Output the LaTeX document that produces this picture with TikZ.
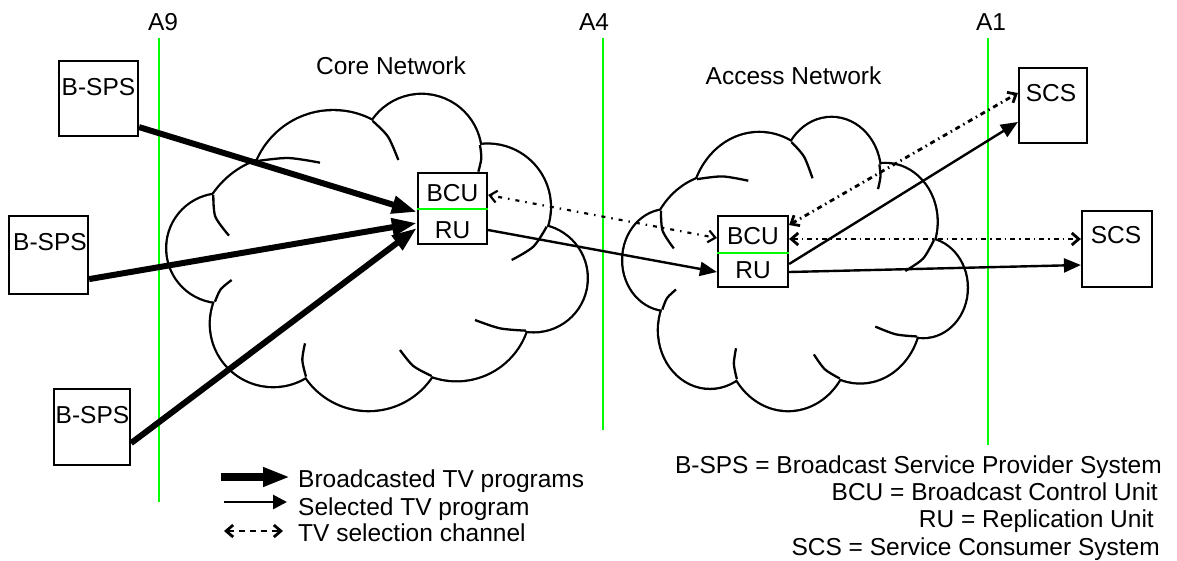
\documentclass[tikz,border=0pt]{standalone}
\usepackage{fontspec}
\setmainfont{Liberation Sans}
\usetikzlibrary{arrows.meta}
\definecolor{lgreen}{RGB}{0,255,0}
\newcommand\puffdata{550/341.6/248,814.9/222.1/177.2,1012.5/381/187,1150.8/594.4/159.3,919.5/680.5/220,655.8/763.6/226.4,369.6/731.2/186.8,213.4/504.6/161.5,409.4/492.6/264.5}
\newcommand\drawmscloud{%
  \foreach \cx/\cy/\r in \puffdata {\draw[line width=4.6pt] (\cx,\cy) circle[radius=\r];}
  \foreach \cx/\cy/\r in \puffdata {\fill[white] (\cx,\cy) circle[radius=\r];}
  \fill[white] (190,345) -- (322,243) -- (668,123) -- (990,195) -- (1190,440) -- (1128,752) -- (845,888) -- (468,890) -- (195,665) -- cycle;
  \draw[cloudline] plot[smooth] coordinates {(322,243) (415,234) (510,248)};
  \draw[cloudline] plot[smooth] coordinates {(668,123) (714,170) (745,240)};
  \draw[cloudline] plot[smooth] coordinates {(990,195) (994,235) (985,275)};
  \draw[cloudline] plot[smooth] coordinates {(1190,440) (1150,500) (1085,540)};
  \draw[cloudline] plot[smooth] coordinates {(1128,752) (1050,745) (975,720)};
  \draw[cloudline] plot[smooth] coordinates {(845,888) (790,858) (750,810)};
  \draw[cloudline] plot[smooth] coordinates {(468,890) (457,840) (465,790)};
  \draw[cloudline] plot[smooth] coordinates {(195,665) (212,628) (245,600)};
  \draw[cloudline] plot[smooth] coordinates {(190,345) (196,410) (237,467)};
}
\begin{document}
\begin{tikzpicture}[x=1pt,y=-1pt,
  cloudline/.style={line width=2.3pt},
  box/.style={draw, line width=2.2pt, fill=white, inner sep=0pt},
  txt/.style={inner sep=0pt, text height=17.6pt, text depth=0pt, font=\fontsize{24.5}{27}\selectfont},
  gline/.style={draw=lgreen, line width=2.8pt},
  divline/.style={draw=lgreen, line width=2.4pt},
  thickarr/.style={line width=6pt, -{Triangle[length=25pt,width=17pt]}},
  thinarr/.style={line width=2.4pt, -{Triangle[length=17pt,width=14pt]}},
  selarr/.style={line width=2.8pt, dash pattern=on 5pt off 4pt on 1.5pt off 4pt,
     {Straight Barb[length=7pt,width=12pt]}-{Straight Barb[length=7pt,width=12pt]}},
  selcore/.style={line width=2.2pt, dash pattern=on 1.5pt off 6pt on 4pt off 6pt,
     {Straight Barb[length=7pt,width=12pt]}-{Straight Barb[length=7pt,width=12pt]}}
]
\useasboundingbox (0,0) rectangle (1177,560);
\fill[white] (0,0) rectangle (1177,560);

% clouds
\begin{scope}[shift={(150,80)},scale=1/3]
  \drawmscloud
\end{scope}
\begin{scope}[shift={(609.1,104.1)},xscale=0.273,yscale=0.309]
  \drawmscloud
\end{scope}

% reference lines
\coordinate (a9t) at (159,38);  \coordinate (a9b) at (159,502);
\coordinate (a4t) at (603,38);  \coordinate (a4b) at (603,430);
\coordinate (a1t) at (988,38);  \coordinate (a1b) at (988,445);
\draw[gline] (a9t) -- (a9b);
\draw[gline] (a4t) -- (a4b);
\draw[gline] (a1t) -- (a1b);
\node[txt] (la9) at (163,22) {A9};
\node[txt] (la4) at (594,22) {A4};
\node[txt] (la1) at (991,22) {A1};

\node[txt] (core lbl) at (391,66) {Core Network};
\node[txt] (acc lbl) at (793.5,76) {Access Network};

% boxes
\node[box, minimum width=79pt, minimum height=75pt] (b1) at (98.5,98.5) {};
\node[txt] (t1) at (98.5,87) {B-SPS};
\node[box, minimum width=79pt, minimum height=78pt] (b2) at (48.5,255) {};
\node[txt] (t2) at (50,242) {B-SPS};
\node[box, minimum width=76pt, minimum height=76pt] (b3) at (92,427) {};
\node[txt] (t3) at (92.5,415) {B-SPS};

\node[box, minimum width=69pt, minimum height=71pt] (core) at (452.5,208.5) {};
\draw[divline] ([yshift=-0.5pt]core.west) -- ([yshift=-0.5pt]core.east);
\node[txt] (cbcu) at (452.5,193) {BCU};
\node[txt] (cru) at (452.5,230) {RU};

\node[box, minimum width=70pt, minimum height=71pt] (acc) at (753,251.5) {};
\draw[divline] ([yshift=-1.5pt]acc.west) -- ([yshift=-1.5pt]acc.east);
\node[txt] (abcu) at (753,236) {BCU};
\node[txt] (aru) at (753,270) {RU};

\node[box, minimum width=68pt, minimum height=75pt] (scs1) at (1053,105.5) {};
\node[txt] (s1) at (1051,93) {SCS};
\node[box, minimum width=70pt, minimum height=76pt] (scs2) at (1117,249) {};
\node[txt] (s2) at (1116,235) {SCS};

% connectors
\draw[thickarr] ([yshift=10pt]b1.south east) -- ([yshift=-3.5pt]core.west);
\draw[thickarr] ([yshift=16pt]b2.south east) -- ([yshift=-14.5pt]core.west);
\draw[thickarr] ([yshift=23pt]b3.south east) -- ([yshift=-19.5pt]core.west);
\draw[thinarr] ([yshift=-21.5pt]core.east) -- ([yshift=-20.5pt]acc.west);
\draw[thinarr] ([yshift=-12.5pt]acc.east) -- ([yshift=-16.5pt]scs1.west);
\draw[thinarr] ([yshift=-20.5pt]acc.east) -- ([yshift=-16pt]scs2.west);
\draw[selcore] ([yshift=13.5pt]core.east) -- ([yshift=13.5pt]acc.west);
\draw[selarr] ([yshift=26.5pt]acc.east) -- ([yshift=12.5pt]scs1.west);
\draw[selarr] ([yshift=12.5pt]acc.east) -- ([yshift=10pt]scs2.west);

% legend
\coordinate (lg1s) at (221,477); \coordinate (lg1e) at (290,477);
\coordinate (lg2s) at (224,502); \coordinate (lg2e) at (287,502);
\coordinate (lg3s) at (224,531); \coordinate (lg3e) at (283,531);
\draw[line width=7.5pt, -{Triangle[length=27pt,width=18pt]}] (lg1s) -- (lg1e);
\draw[line width=2.8pt, -{Triangle[length=14pt,width=14pt]}] (lg2s) -- (lg2e);
\draw[line width=2.8pt, dash pattern=on 6pt off 5pt,
  {Straight Barb[length=7pt,width=12pt]}-{Straight Barb[length=7pt,width=12pt]}] (lg3s) -- (lg3e);
\node[txt, anchor=west] (lt1) at (298,479) {Broadcasted TV programs};
\node[txt, anchor=west] (lt2) at (298,507) {Selected TV program};
\node[txt, anchor=west] (lt3) at (298,533) {TV selection channel};

\node[txt, anchor=east] (r1) at (1162,465) {B-SPS = Broadcast Service Provider System};
\node[txt, anchor=east] (r2) at (1158,492) {BCU = Broadcast Control Unit};
\node[txt, anchor=east] (r3) at (1154,519) {RU = Replication Unit};
\node[txt, anchor=east] (r4) at (1160,547) {SCS = Service Consumer System};
\end{tikzpicture}
\end{document}
